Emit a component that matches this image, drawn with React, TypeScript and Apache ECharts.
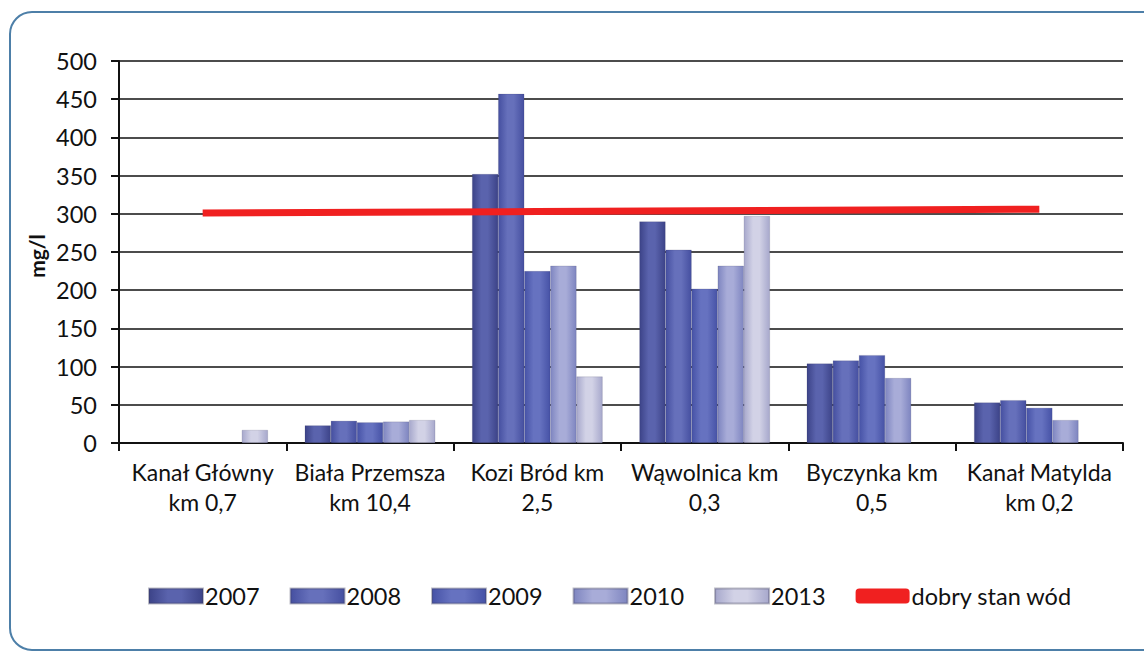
import React, { useEffect, useRef } from "react";
import * as echarts from "echarts";

const categories = [
  "Kanał Główny\nkm 0,7",
  "Biała Przemsza\nkm 10,4",
  "Kozi Bród km\n2,5",
  "Wąwolnica km\n0,3",
  "Byczynka km\n0,5",
  "Kanał Matylda\nkm 0,2",
];
const s2007 = [null, 23, 352, 290, 104, 53];
const s2008 = [null, 29, 457, 253, 108, 56];
const s2009 = [null, 27, 225, 202, 115, 46];
const s2010 = [null, 28, 232, 232, 85, 30];
const s2013 = [17, 30, 87, 297, null, null];
const goodState = [301, 302, 303, 304, 305, 306];
const yTicks = [0, 50, 100, 150, 200, 250, 300, 350, 400, 450, 500];

const FONT = "Lato, 'Open Sans', sans-serif";

function grad(edge: string, mid: string) {
  return new echarts.graphic.LinearGradient(0, 0, 1, 0, [
    { offset: 0, color: edge },
    { offset: 0.35, color: mid },
    { offset: 0.6, color: mid },
    { offset: 1, color: edge },
  ]);
}

export default function App() {
  const ref = useRef<HTMLDivElement>(null);
  useEffect(() => {
    const chart = echarts.init(ref.current!, null, { renderer: "svg" });
    const barSeries = (name: string, data: (number | null)[], edge: string, mid: string) => ({
      name,
      type: "bar",
      data,
      barGap: "0%",
      barCategoryGap: "22%",
      itemStyle: { color: grad(edge, mid), borderColor: "rgba(60,60,90,0.35)", borderWidth: 0.5 },
      z: 2,
    });
    chart.setOption({
      animation: false,
      textStyle: { fontFamily: FONT },
      graphic: [
        {
          type: "rect",
          shape: { x: 10, y: 12, width: 1160, height: 638, r: 22 },
          style: { fill: "none", stroke: "#4d7fa8", lineWidth: 2 },
          z: 0,
        },
        {
          type: "text",
          x: 36,
          y: 256,
          rotation: Math.PI / 2,
          style: {
            text: "mg/l",
            font: `bold 21px ${FONT}`,
            fill: "#111",
            align: "center",
            verticalAlign: "middle",
          },
        },
      ],
      grid: { left: 119, right: 21, top: 61, bottom: 214 },
      legend: {
        bottom: 44,
        left: 143,
        itemWidth: 54,
        itemHeight: 15,
        itemGap: 30,
        textStyle: { fontSize: 23.5, color: "#111", fontFamily: FONT, padding: [0, 0, 0, -3] },
        data: [
          { name: "2007", icon: "rect" },
          { name: "2008", icon: "rect" },
          { name: "2009", icon: "rect" },
          { name: "2010", icon: "rect" },
          { name: "2013", icon: "rect" },
          { name: "dobry stan wód", icon: "roundRect", itemStyle: { color: "#f02020" } },
        ],
      },
      xAxis: {
        type: "category",
        data: categories,
        axisLine: { lineStyle: { color: "#111", width: 2 } },
        axisTick: { show: true, length: 8, lineStyle: { color: "#111", width: 2 } },
        axisLabel: { fontSize: 23, color: "#111", lineHeight: 30, margin: 14, interval: 0, fontFamily: FONT },
      },
      yAxis: {
        type: "value",
        min: 0,
        max: 500,
        interval: 50,
        axisLine: { show: true, lineStyle: { color: "#111", width: 2 } },
        axisTick: { show: true, length: 8, inside: false, lineStyle: { color: "#111", width: 2 } },
        splitLine: { lineStyle: { color: "#111", width: 1.5 } },
        axisLabel: {
          fontSize: 23.5,
          color: "#111",
          margin: 22,
          fontFamily: FONT,
          formatter: (v: number) => (yTicks.includes(v) ? String(v) : ""),
        },
      },
      series: [
        barSeries("2007", s2007, "#3c4388", "#5a63ad"),
        barSeries("2008", s2008, "#454fa0", "#6670bb"),
        barSeries("2009", s2009, "#4652a6", "#6672c0"),
        barSeries("2010", s2010, "#7e85c0", "#a8acd8"),
        barSeries("2013", s2013, "#a7a8cc", "#d2d2e6"),
        {
          name: "dobry stan wód",
          type: "line",
          data: goodState,
          symbol: "none",
          lineStyle: { color: "#f02020", width: 7 },
          itemStyle: { color: "#f02020" },
          z: 5,
        },
      ],
    });
    return () => chart.dispose();
  }, []);
  return (
    <div
      ref={ref}
      style={{ position: "absolute", left: 0, top: 0, width: 1144, height: 657, background: "#fff" }}
    />
  );
}
